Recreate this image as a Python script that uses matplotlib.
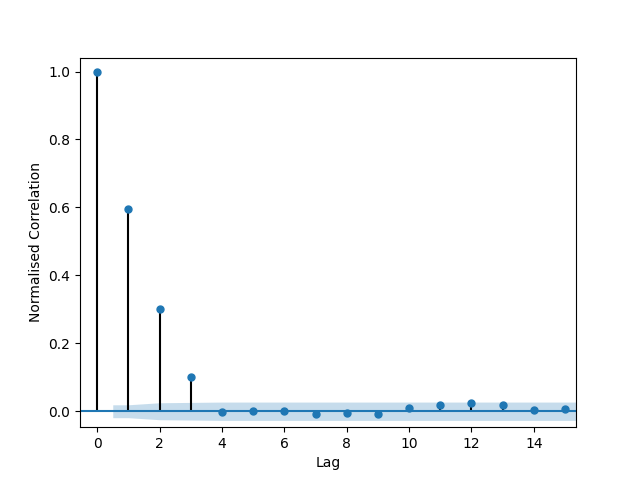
import numpy as np
import matplotlib
matplotlib.use("Agg")
import matplotlib.pyplot as plt

# acf values
lags = np.arange(16)
acf = [1.0, 0.595, 0.30, 0.10, -0.001, 0.002, 0.0, -0.007, -0.004, -0.007,
       0.009, 0.017, 0.023, 0.017, 0.005, 0.006]
# confidence band (half width) around zero
band_x = [0.5, 1, 2, 3, 4, 5, 6, 7, 8, 9, 10, 11, 12, 13, 14, 15.5]
band_w = [0.019, 0.019, 0.025, 0.026, 0.027, 0.027, 0.027, 0.027, 0.027,
          0.027, 0.027, 0.027, 0.027, 0.027, 0.027, 0.027]

fig, ax = plt.subplots(figsize=(6.4, 4.8), dpi=100)
ax.vlines(lags, 0, acf, colors="k", lw=1.5)
ax.axhline(0, color="C0", lw=1.5)
ax.plot(lags, acf, "o", color="C0", markersize=5)
ax.fill_between(band_x, [-w for w in band_w], band_w, color="C0", alpha=0.25, lw=0)
ax.set_xlim(-0.55, 15.35)
ax.set_ylim(-0.047, 1.041)
ax.set_xlabel("Lag")
ax.set_ylabel("Normalised Correlation")
fig.savefig("out.png")
